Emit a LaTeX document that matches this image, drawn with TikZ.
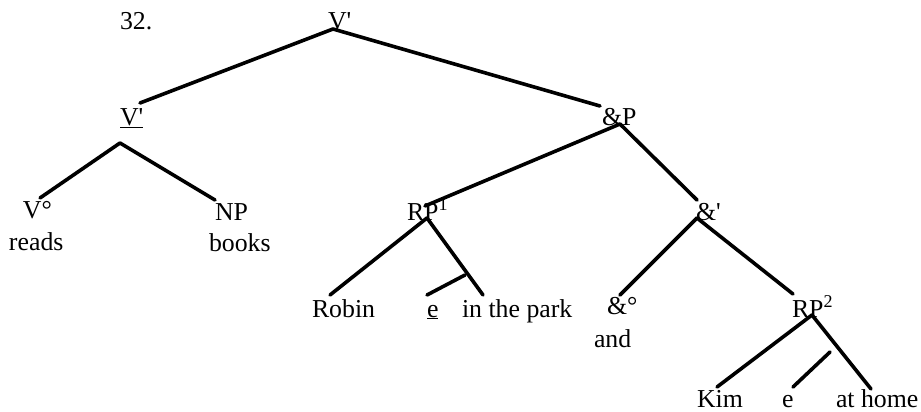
\documentclass[tikz,border=0pt]{standalone}
\usepackage{fontspec}
\setmainfont{Liberation Serif}
\begin{document}
\begin{tikzpicture}[x=1pt,y=-1pt,
  lab/.style={inner sep=0pt,outer sep=0pt,anchor=base west,font=\fontsize{25.8}{30}\selectfont},
  br/.style={line width=3.6pt,line cap=round}]
\useasboundingbox (0,0) rectangle (921,412);
% labels
\node[lab] (num) at (120,30) {32.};
\node[lab] (top) at (328,30) {V\textquotesingle};
\node[lab] (vbar) at (120,125) {\underline{V\textquotesingle}};
\node[lab] (vo) at (23,218) {V°};
\node[lab] (reads) at (9,250) {reads};
\node[lab] (np) at (215,220) {NP};
\node[lab] (books) at (209,251) {books};
\node[lab] (andp) at (602,125) {\&P};
\node[lab] (rp1) at (407,220) {RP\textsuperscript{1}};
\node[lab] (robin) at (312,317) {Robin};
\node[lab] (e1) at (427,317) {\underline{e}};
\node[lab] (park) at (462,317) {in the park};
\node[lab] (andbar) at (696,220) {\&\textquotesingle};
\node[lab] (ando) at (607,314) {\&°};
\node[lab] (and) at (594,347) {and};
\node[lab] (rp2) at (792,317) {RP\textsuperscript{2}};
\node[lab] (kim) at (697,407) {Kim};
\node[lab] (e2) at (782,407) {e};
\node[lab] (home) at (836,407) {at home};
% attachment points
\coordinate (topJ) at (333,29);
\coordinate (vbarT) at (140,103);
\coordinate (vbarJ) at (120,143);
\coordinate (voT) at (40,198);
\coordinate (npT) at (215,200);
\coordinate (andpT) at (600,106);
\coordinate (andpJ) at (620,124);
\coordinate (rp1T) at (425,206);
\coordinate (rp1J) at (427,218);
\coordinate (robinT) at (330,295);
\coordinate (parkT) at (483,295);
\coordinate (trace1) at (465,275);
\coordinate (e1T) at (427,295);
\coordinate (andbarT) at (697,200);
\coordinate (andbarJ) at (697,218);
\coordinate (andoT) at (620,295);
\coordinate (rp2T) at (793,294);
\coordinate (rp2J) at (812,315);
\coordinate (kimT) at (717,387);
\coordinate (homeT) at (871,389);
\coordinate (trace2) at (830,352);
\coordinate (e2T) at (793,387);
% branches
\draw[br] (topJ) -- (vbarT);
\draw[br] (topJ) -- (andpT);
\draw[br] (vbarJ) -- (voT);
\draw[br] (vbarJ) -- (npT);
\draw[br] (andpJ) -- (rp1T);
\draw[br] (andpJ) -- (andbarT);
\draw[br] (rp1J) -- (robinT);
\draw[br] (rp1J) -- (parkT);
\draw[br] (trace1) -- (e1T);
\draw[br] (andbarJ) -- (andoT);
\draw[br] (andbarJ) -- (rp2T);
\draw[br] (rp2J) -- (kimT);
\draw[br] (rp2J) -- (homeT);
\draw[br] (trace2) -- (e2T);
\end{tikzpicture}
\end{document}
